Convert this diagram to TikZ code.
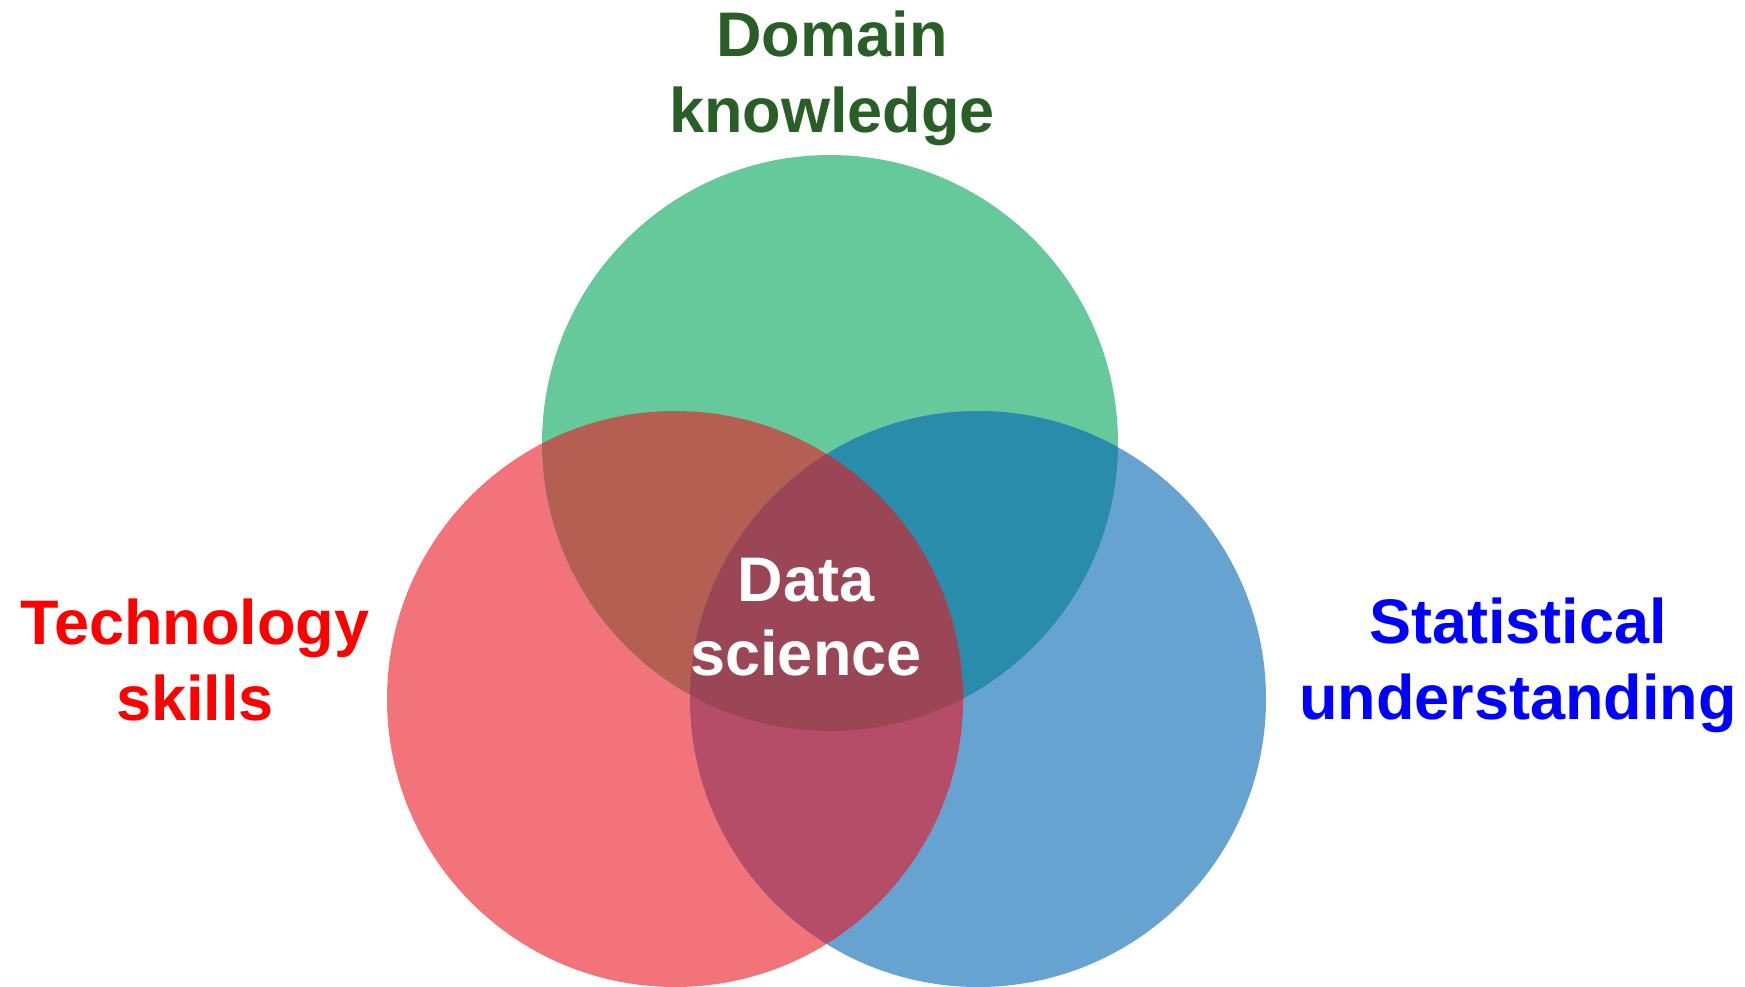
\documentclass[tikz,border=0pt]{standalone}
\usepackage{fontspec}
\setmainfont{Liberation Sans}
\usepackage{xcolor}
\usetikzlibrary{positioning}
\definecolor{vdomain}{HTML}{66C99B}
\definecolor{vtech}{HTML}{F2737A}
\definecolor{vstat}{HTML}{66A3D0}
\definecolor{vtechdom}{HTML}{B45F52}
\definecolor{vdomstat}{HTML}{2A8CAB}
\definecolor{vtechstat}{HTML}{B54D68}
\definecolor{vcore}{HTML}{9B4657}
\definecolor{ldomain}{HTML}{2A5E27}
\definecolor{ltech}{HTML}{FF0000}
\definecolor{lstat}{HTML}{0000FF}
\tikzset{
  vlabel/.style={font=\bfseries\fontsize{63}{76}\selectfont, align=center,
                 inner sep=0pt, anchor=base},
}

\begin{document}
\begin{tikzpicture}[x=1pt, y=-1pt]
  \useasboundingbox (0,0) rectangle (1745,987);
  \def\rad{288}

  %% Circle centres
  \coordinate (dom)  at (830,443);
  \coordinate (tech) at (675,699);
  \coordinate (stat) at (978,699);

  %% Plain circles
  \fill[vtech]   (tech) circle (\rad);
  \fill[vdomain] (dom)  circle (\rad);
  \fill[vstat]   (stat) circle (\rad);

  %% Pairwise overlaps
  \begin{scope}
    \clip (tech) circle (\rad);
    \fill[vtechdom] (dom) circle (\rad);
  \end{scope}
  \begin{scope}
    \clip (dom) circle (\rad);
    \fill[vdomstat] (stat) circle (\rad);
  \end{scope}
  \begin{scope}
    \clip (tech) circle (\rad);
    \fill[vtechstat] (stat) circle (\rad);
  \end{scope}

  %% Centre region
  \begin{scope}
    \clip (tech) circle (\rad);
    \clip (dom) circle (\rad);
    \fill[vcore] (stat) circle (\rad);
  \end{scope}

  %% Labels (anchored on the baseline of the last line)
  \node[vlabel, ldomain] (domlbl)  at (832,133)  {Domain\\knowledge};
  \node[vlabel, ltech]   (techlbl) at (195,720)  {Technology\\skills};
  \node[vlabel, lstat]   (statlbl) at (1518,719) {Statistical\\understanding};
  \node[vlabel, white, font=\bfseries\fontsize{63}{74}\selectfont]
       (core) at (806,675) {Data\\science};
\end{tikzpicture}
\end{document}
